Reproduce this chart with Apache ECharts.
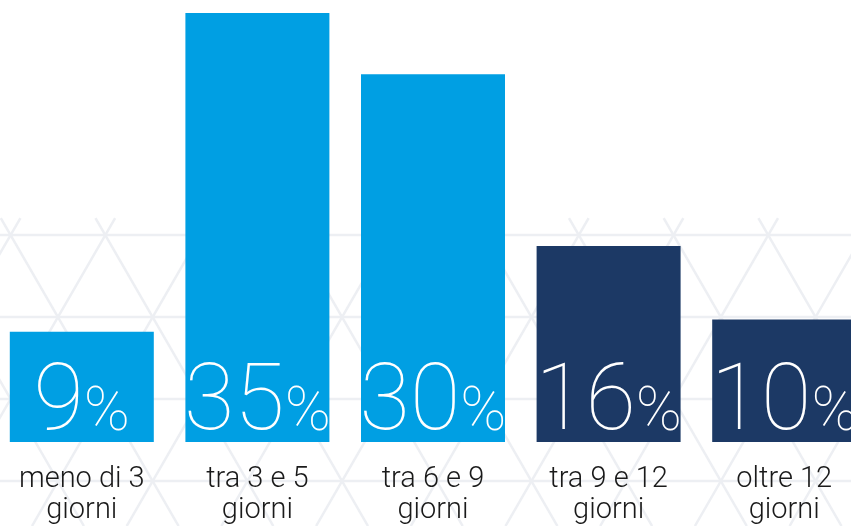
<!DOCTYPE html>
<html>
<head>
<meta charset="utf-8">
<script src="https://cdn.jsdelivr.net/npm/echarts@6/dist/echarts.min.js"></script>
<style>
html,body{margin:0;padding:0;background:#fff;overflow:hidden;width:851px;height:526px;position:relative;}
#chart{position:absolute;left:-6px;top:0;width:878px;height:526px;}
</style>
</head>
<body>
<div id="chart"></div>
<script>
const categories = ['meno di 3\ngiorni', 'tra 3 e 5\ngiorni', 'tra 6 e 9\ngiorni', 'tra 9 e 12\ngiorni', 'oltre 12\ngiorni'];
const shares = [9, 35, 30, 16, 10];
const barColors = ['#009FE3', '#009FE3', '#009FE3', '#1C3965', '#1C3965'];

// decorative background: faint triangular lattice in the lower part
function latticeLines() {
  const els = [];
  const top = 218, bottom = 526, a = 94.7, dy = a * Math.sin(Math.PI / 3);
  const y0 = 235, x0 = 16.6;
  const stroke = { stroke: '#edeff3', lineWidth: 2.5 };
  for (let y = y0; y < bottom; y += dy) {
    els.push({ type: 'line', silent: true, shape: { x1: 0, y1: y, x2: 878, y2: y }, style: stroke });
  }
  const t = Math.tan(Math.PI / 3);
  for (let k = -8; k < 14; k++) {
    const px = x0 + k * a;
    els.push({ type: 'line', silent: true, shape: { x1: px + (top - y0) / t, y1: top, x2: px + (bottom - y0) / t, y2: bottom }, style: stroke });
    els.push({ type: 'line', silent: true, shape: { x1: px - (top - y0) / t, y1: top, x2: px - (bottom - y0) / t, y2: bottom }, style: stroke });
  }
  return els;
}

const chart = echarts.init(document.getElementById('chart'), null, { renderer: 'canvas' });
chart.setOption({
  backgroundColor: '#ffffff',
  animation: false,
  graphic: [{ type: 'group', z: -10, silent: true, children: latticeLines() }],
  grid: { left: 0, right: 0, top: 13, bottom: 83, containLabel: false },
  xAxis: {
    type: 'category',
    data: categories,
    axisLine: { show: false },
    axisTick: { show: false },
    axisLabel: {
      interval: 0,
      margin: 22,
      fontFamily: 'Roboto',
      fontWeight: 300,
      fontSize: 29,
      lineHeight: 31,
      color: '#1a1a1a'
    }
  },
  yAxis: { type: 'value', min: 0, max: 35, show: false, splitLine: { show: false } },
  series: [{
    type: 'bar',
    barWidth: 144,
    data: shares.map((v, i) => ({ value: v, itemStyle: { color: barColors[i] } })),
    label: {
      show: true,
      position: 'insideBottom',
      distance: 4,
      offset: [0, 14],
      formatter: p => '{n|' + p.value + '}{p|%}',
      rich: {
        n: { fontFamily: 'Roboto', fontWeight: 100, fontSize: 92, color: '#fff', verticalAlign: 'bottom', lineHeight: 92 },
        p: { fontFamily: 'Roboto', fontWeight: 100, fontSize: 62, color: '#fff', verticalAlign: 'bottom', lineHeight: 60, padding: [0, 0, 7, 0] }
      }
    }
  }]
});
</script>
</body>
</html>
